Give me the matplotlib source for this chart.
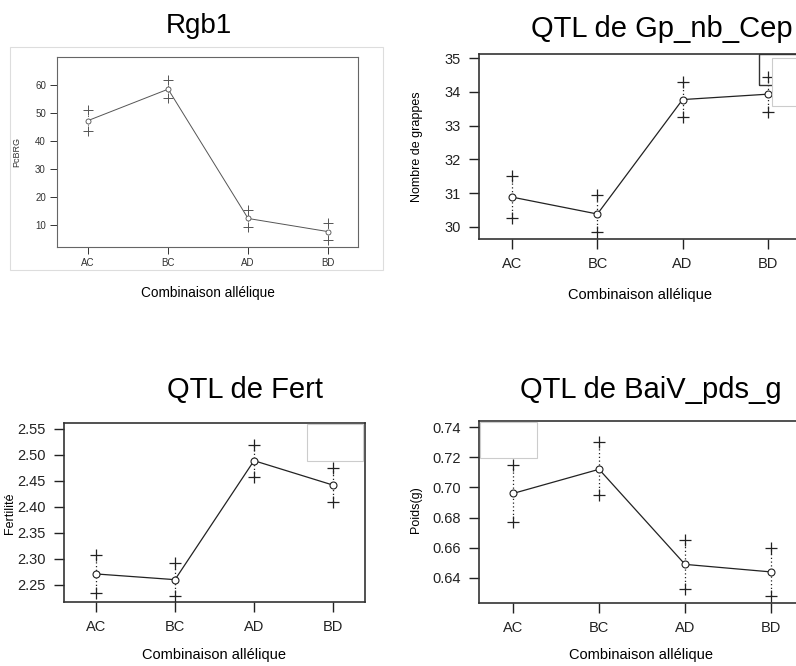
import matplotlib
matplotlib.use("Agg")
import matplotlib.pyplot as plt
from matplotlib.patches import Rectangle

plt.rcParams['font.family'] = ['Liberation Sans', 'DejaVu Sans']

W, H = 796, 666

combos = ["AC", "BC", "AD", "BD"]

# Rgb1 (PcBRG)
rgb_mean = [47.3, 58.5, 12.3, 7.6]
rgb_hi = [51.0, 61.8, 15.5, 10.6]
rgb_lo = [43.5, 55.2, 9.4, 4.5]

# Gp_nb_Cep
gp_mean = [30.88, 30.38, 33.77, 33.93]
gp_hi = [31.50, 30.93, 34.28, 34.43]
gp_lo = [30.25, 29.85, 33.25, 33.40]

# Fert
fert_mean = [2.271, 2.260, 2.489, 2.442]
fert_hi = [2.307, 2.292, 2.520, 2.474]
fert_lo = [2.235, 2.228, 2.458, 2.410]

# BaiV_pds_g
baiv_mean = [0.696, 0.712, 0.649, 0.644]
baiv_hi = [0.715, 0.730, 0.665, 0.660]
baiv_lo = [0.677, 0.695, 0.633, 0.628]


def px_axes(fig, x0, y0, x1, y1):
    return fig.add_axes([x0 / W, 1 - y1 / H, (x1 - x0) / W, (y1 - y0) / H])


def draw(ax, mean, hi, lo, col, ms_plus, ms_circ, lw):
    xs = list(range(1, len(combos) + 1))
    ax.vlines(xs, lo, hi, colors=col, linestyles=(0, (1, 2)), lw=lw, zorder=1)
    ax.plot(xs, mean, color=col, lw=lw, zorder=2)
    ax.plot(xs, hi, ls='none', marker='+', ms=ms_plus, mew=lw, color=col, zorder=3)
    ax.plot(xs, lo, ls='none', marker='+', ms=ms_plus, mew=lw, color=col, zorder=3)
    ax.plot(xs, mean, ls='none', marker='o', ms=ms_circ, mew=lw * 0.9,
            mfc='white', mec=col, zorder=4)
    ax.set_xticks(xs)
    ax.set_xticklabels(combos)


fig = plt.figure(figsize=(W / 100, H / 100), dpi=100)

# ---- panel 1 : Rgb1 (embedded small figure)
fig.patches.append(Rectangle((10 / W, 1 - 270 / H), 373 / W, 223 / H,
                             transform=fig.transFigure, fill=False,
                             ec='#dddddd', lw=0.8))
ax1 = px_axes(fig, 57, 57, 358, 247)
draw(ax1, rgb_mean, rgb_hi, rgb_lo, '#555555', 7, 3.6, 0.7)
ax1.set_xlim(0.61, 4.375)
ax1.set_ylim(2.1, 70)
ax1.set_yticks([10, 20, 30, 40, 50, 60])
ax1.tick_params(labelsize=7, length=5, width=0.7, pad=3, colors='#333333')
for s in ax1.spines.values():
    s.set_color('#666666')
    s.set_linewidth(0.8)

# ---- panel 2 : Gp_nb_Cep
ax2 = px_axes(fig, 479, 54, 801, 239)
draw(ax2, gp_mean, gp_hi, gp_lo, '#222222', 9, 5, 0.9)
ax2.set_xlim(0.61, 4.39)
ax2.set_ylim(29.64, 35.12)
ax2.set_yticks([30, 31, 32, 33, 34, 35])
ax2.add_patch(Rectangle((759 / W, 1 - 85 / H), 45 / W, 31 / H,
                        transform=fig.transFigure, fill=False, ec='#333333',
                        lw=1.0, zorder=5, clip_on=False))
ax2.add_patch(Rectangle((772 / W, 1 - 106 / H), 30 / W, 48 / H,
                        transform=fig.transFigure, fc='white', ec='#cccccc',
                        lw=0.8, zorder=6, clip_on=False))

# ---- panel 3 : Fert
ax3 = px_axes(fig, 64, 423, 365, 602)
draw(ax3, fert_mean, fert_hi, fert_lo, '#222222', 9, 5, 0.9)
ax3.set_xlim(0.595, 4.405)
ax3.set_ylim(2.217, 2.5615)
ax3.set_yticks([2.25, 2.30, 2.35, 2.40, 2.45, 2.50, 2.55])
ax3.set_yticklabels(["2.25", "2.30", "2.35", "2.40", "2.45", "2.50", "2.55"])
ax3.add_patch(Rectangle((307 / W, 1 - 461 / H), 56 / W, 37 / H,
                        transform=fig.transFigure, fc='white', ec='#cccccc',
                        lw=0.8, zorder=6))

# ---- panel 4 : BaiV_pds_g
ax4 = px_axes(fig, 479, 421, 801, 603)
draw(ax4, baiv_mean, baiv_hi, baiv_lo, '#222222', 9, 5, 0.9)
ax4.set_xlim(0.603, 4.35)
ax4.set_ylim(0.6234, 0.744)
ax4.set_yticks([0.64, 0.66, 0.68, 0.70, 0.72, 0.74])
ax4.set_yticklabels(["0.64", "0.66", "0.68", "0.70", "0.72", "0.74"])
ax4.add_patch(Rectangle((480 / W, 1 - 458 / H), 57 / W, 36 / H,
                        transform=fig.transFigure, fc='white', ec='#cccccc',
                        lw=0.8, zorder=6))

for ax in (ax2, ax3, ax4):
    ax.tick_params(labelsize=10.5, length=7, width=1.0, pad=6, colors='#222222')
    for s in ax.spines.values():
        s.set_color('#333333')
        s.set_linewidth(1.2)

# titles (baseline positions)
titles = [("Rgb1", 199, 33, 20), ("QTL de Gp_nb_Cep", 662, 37, 21),
          ("QTL de Fert", 245, 398, 21), ("QTL de BaiV_pds_g", 651, 398, 21)]
for t, x, y, fs in titles:
    fig.text(x / W, 1 - y / H, t, fontsize=fs, ha='center', va='baseline')

xlabs = [(208, 293, 9.8), (640, 295, 10.5), (214, 655, 10.5), (641, 655, 10.5)]
for x, y, fs in xlabs:
    fig.text(x / W, 1 - y / H, "Combinaison allélique", fontsize=fs,
             ha='center', va='center')

ylabs = [("PcBRG", 17, 152, 6.5, '#333333'), ("Nombre de grappes", 417, 147, 9, 'k'),
         ("Fertilité", 10, 513, 9, 'k'), ("Poids(g)", 416, 510, 9, 'k')]
for t, x, y, fs, c in ylabs:
    fig.text(x / W, 1 - y / H, t, fontsize=fs, color=c, rotation=90,
             ha='center', va='center')

fig.savefig("out.png", dpi=100)
